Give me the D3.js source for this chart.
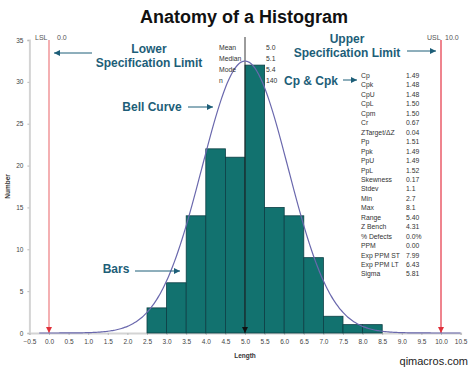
<!DOCTYPE html>
<html><head><meta charset="utf-8">
<script src="https://cdn.jsdelivr.net/npm/d3@7"></script>
<style>
html,body{margin:0;padding:0;background:#fff;}
svg{display:block;}
</style></head>
<body>
<svg id="chart" width="474" height="367"></svg>
<script>
// ---- data ----
const binStarts = [2.5, 3.0, 3.5, 4.0, 4.5, 5.0, 5.5, 6.0, 6.5, 7.0, 7.5, 8.0];
const binCounts = [3, 6, 14, 22, 21, 32, 15, 14, 9, 2, 1, 1];
const binWidth = 0.5;
const xTicks = [-0.5,0,0.5,1,1.5,2,2.5,3,3.5,4,4.5,5,5.5,6,6.5,7,7.5,8,8.5,9,9.5,10,10.5];
const yTicks = [0,5,10,15,20,25,30,35];
const curveMean = 5.0, curveSd = 1.1, curvePeak = 32.5;
const curveRange = [-0.25, 10.5];
const lsl = 0.0, usl = 10.0, meanValue = 5.0;
const summaryLabels = ["Mean","Median","Mode","n"];
const summaryValues = ["5.0","5.1","5.4","140"];
const statLabels = ["Cp","Cpk","CpU","CpL","Cpm","Cr","ZTarget/\u0394Z","Pp","Ppk","PpU","PpL","Skewness","Stdev","Min","Max","Range","Z Bench","% Defects","PPM","Exp PPM ST","Exp PPM LT","Sigma"];
const statValues = ["1.49","1.48","1.48","1.50","1.50","0.67","0.04","1.51","1.49","1.49","1.52","0.17","1.1","2.7","8.1","5.40","4.31","0.0%","0.00","7.99","6.43","5.81"];

// ---- drawing ----
const svg = d3.select("#chart");
const x = d3.scaleLinear().domain([-0.5, 10.5]).range([29.4, 460.6]);
const y = d3.scaleLinear().domain([0, 35]).range([333, 40]);
const teal = "#1d5e78";
const smallFont = "Liberation Sans, Arial, sans-serif";

const defs = svg.append("defs");
function marker(id, color, w, h){
  defs.append("marker").attr("id", id).attr("viewBox","0 0 10 10").attr("refX",10).attr("refY",5)
    .attr("markerWidth", w).attr("markerHeight", h).attr("orient","auto").attr("markerUnits","userSpaceOnUse")
    .append("path").attr("d","M0,0L10,5L0,10z").attr("fill", color);
}
marker("arrTeal", teal, 7, 6);
marker("arrRed", "#e0303a", 6, 6);
marker("arrBlack", "#111", 6, 6);

// title
svg.append("text").attr("x", 244).attr("y", 23).attr("text-anchor","middle")
  .attr("font-family","Liberation Sans, Arial, sans-serif").attr("font-weight","bold")
  .attr("font-size", 18).attr("fill","#111").text("Anatomy of a Histogram");

// axes
const yAxis = svg.append("g").attr("transform", `translate(${x(-0.5)},0)`)
  .call(d3.axisLeft(y).tickValues(yTicks).tickSize(2).tickPadding(4));
const xAxis = svg.append("g").attr("transform", `translate(0,${y(0)})`)
  .call(d3.axisBottom(x).tickValues(xTicks).tickSize(2).tickPadding(4).tickFormat(d3.format(".1f")));
[yAxis, xAxis].forEach(g => {
  g.selectAll("path.domain").attr("stroke","#d4d4d4").attr("stroke-width",2);
  g.selectAll(".tick line").attr("stroke","#bbb");
  g.selectAll("text").attr("font-family", smallFont).attr("font-size",6.5).attr("fill","#444");
});

svg.append("text").attr("transform", `translate(10,${(y(0)+y(35))/2}) rotate(-90)`)
  .attr("text-anchor","middle").attr("font-family",smallFont).attr("font-weight","bold")
  .attr("font-size",6.5).attr("fill","#333").text("Number");
svg.append("text").attr("x", x(5)).attr("y", 358).attr("text-anchor","middle")
  .attr("font-family",smallFont).attr("font-weight","bold").attr("font-size",6.5).attr("fill","#333").text("Length");

// bars
svg.append("g").selectAll("rect").data(binStarts.map((s,i)=>({s, c: binCounts[i]}))).join("rect")
  .attr("x", d => x(d.s)).attr("width", d => x(d.s + binWidth) - x(d.s))
  .attr("y", d => y(d.c)).attr("height", d => y(0) - y(d.c))
  .attr("fill","#12726f").attr("stroke","#0d3f45").attr("stroke-width",0.8);

// spec limits
[[lsl,"#f08f92"],[usl,"#e8505e"]].forEach(([v,c]) => {
  svg.append("line").attr("x1", x(v)).attr("x2", x(v)).attr("y1", y(35)).attr("y2", y(0))
    .attr("stroke", c).attr("stroke-width", 1.4).attr("marker-end","url(#arrRed)");
});
// mean line
svg.append("line").attr("x1", x(meanValue)).attr("x2", x(meanValue)).attr("y1", 37).attr("y2", y(0))
  .attr("stroke","#222").attr("stroke-width",0.9).attr("marker-end","url(#arrBlack)");

// bell curve
const curvePts = d3.range(curveRange[0], curveRange[1] + 1e-9, 0.05).map(v =>
  [v, curvePeak * Math.exp(-0.5 * Math.pow((v - curveMean) / curveSd, 2))]);
svg.append("path").datum(curvePts)
  .attr("d", d3.line().x(d => x(d[0])).y(d => y(d[1])).curve(d3.curveBasis))
  .attr("fill","none").attr("stroke","#6a68ad").attr("stroke-width",1.2);

// LSL / USL labels
const lbl = (t, xx, yy, anchor="start") => svg.append("text").attr("x", xx).attr("y", yy)
  .attr("text-anchor", anchor).attr("font-family", smallFont).attr("font-size",7).attr("fill","#555").text(t);
lbl("LSL", 35, 40); lbl(d3.format(".1f")(lsl), 57, 40);
lbl("USL", 427, 40); lbl(d3.format(".1f")(usl), 445, 40);

// annotations
const ann = (lines, cx, ys, size) => lines.forEach((t,i) => svg.append("text").attr("x", cx).attr("y", ys[i])
  .attr("text-anchor","middle").attr("font-family","Liberation Sans, Arial, sans-serif").attr("font-weight","bold")
  .attr("font-size", size).attr("fill", teal).text(t));
const arrow = (x1, y1, x2, y2) => svg.append("line").attr("x1",x1).attr("y1",y1).attr("x2",x2).attr("y2",y2)
  .attr("stroke", teal).attr("stroke-width",1).attr("marker-end","url(#arrTeal)");

ann(["Lower","Specification Limit"], 149, [53, 67], 12);
arrow(92, 53, 54, 53);
ann(["Upper","Specification Limit"], 347, [43, 57], 12);
arrow(407, 51, 436, 51);
ann(["Bell Curve"], 152, [111], 12);
arrow(188, 107, 213, 107);
ann(["Bars"], 116, [273], 12);
arrow(135, 271, 180, 271);
ann(["Cp & Cpk"], 311, [85], 12);
arrow(343, 80, 357, 80);

// summary table
summaryLabels.forEach((t,i) => {
  svg.append("text").attr("x", 219).attr("y", 50 + i*11).attr("font-family",smallFont).attr("font-size",6.8).attr("fill","#333").text(t);
  svg.append("text").attr("x", 266).attr("y", 50 + i*11).attr("font-family",smallFont).attr("font-size",6.8).attr("fill","#333").text(summaryValues[i]);
});
// stats table
statLabels.forEach((t,i) => {
  svg.append("text").attr("x", 361).attr("y", 78 + i*9.45).attr("font-family",smallFont).attr("font-size",6.8).attr("fill","#333").text(t);
  svg.append("text").attr("x", 406).attr("y", 78 + i*9.45).attr("font-family",smallFont).attr("font-size",6.8).attr("fill","#333").text(statValues[i]);
});

svg.append("text").attr("x", 468).attr("y", 365).attr("text-anchor","end")
  .attr("font-family","Liberation Sans, Arial, sans-serif").attr("font-size",11).attr("fill","#222").text("qimacros.com");
</script>
</body></html>
